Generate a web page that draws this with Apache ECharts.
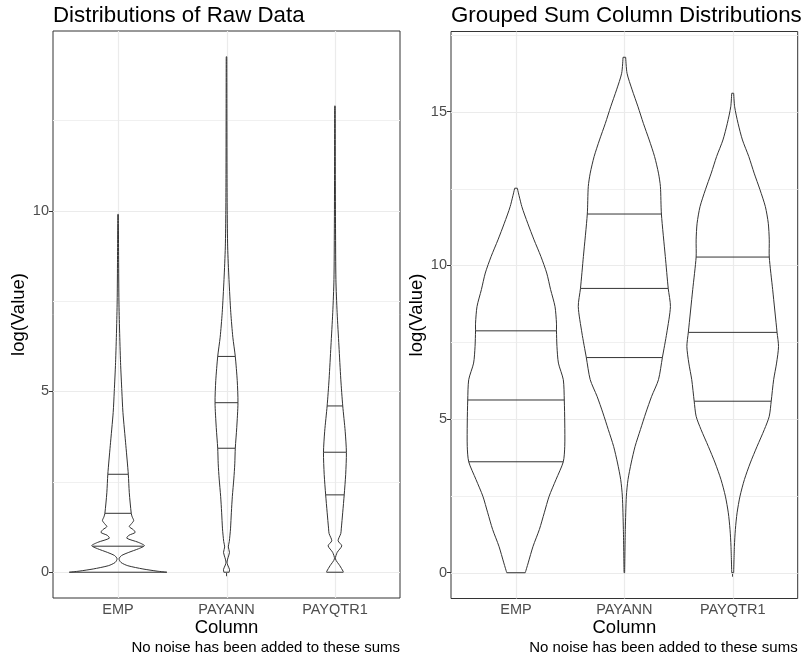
<!DOCTYPE html>
<html><head><meta charset="utf-8">
<script src="https://cdn.jsdelivr.net/npm/echarts@6/dist/echarts.min.js"></script>
<style>html,body{margin:0;padding:0;background:#fff}#c{width:801px;height:660px}</style>
</head><body><div id="c"></div>
<script>
const categories = ['EMP', 'PAYANN', 'PAYQTR1'];
const panelTitles = ['Distributions of Raw Data', 'Grouped Sum Column Distributions'];
const xTitle = 'Column';
const yTitle = 'log(Value)';
const captionText = 'No noise has been added to these sums';

// Panel 1 (raw data): violin outlines, value and scaled density width (1 = widest)
const rawEmpY = [0, 0.03, 0.09, 0.18, 0.27, 0.37, 0.46, 0.55, 0.65, 0.735, 0.83, 0.94, 1.02, 1.10, 1.18, 1.26, 1.35, 1.43, 1.53, 1.63, 2.2, 2.71, 3.5, 4.42, 5.0, 5.8, 6.7, 7.5, 8.5, 9.9];
const rawEmpW = [1.00, 0.80, 0.51, 0.20, 0.06, 0.02, 0.07, 0.22, 0.42, 0.54, 0.41, 0.18, 0.22, 0.35, 0.31, 0.23, 0.28, 0.32, 0.29, 0.27, 0.23, 0.21, 0.16, 0.10, 0.078, 0.051, 0.031, 0.018, 0.012, 0.006];
const rawPayannY = [0, 0.08, 0.2, 0.28, 0.4, 0.55, 0.7, 0.85, 1.2, 1.66, 2.1, 2.58, 3.0, 3.43, 4.0, 4.69, 5.3, 5.97, 6.5, 7.18, 8.1, 9.0, 10, 11, 12.5, 14.26];
const rawPayannW = [0.055, 0.061, 0.024, 0.01, 0.031, 0.061, 0.037, 0.057, 0.082, 0.10, 0.12, 0.15, 0.17, 0.18, 0.21, 0.235, 0.22, 0.18, 0.13, 0.088, 0.051, 0.024, 0.014, 0.01, 0.008, 0.006];
const rawPayqtrY = [0, 0.02, 0.18, 0.37, 0.55, 0.73, 0.87, 1.07, 1.2, 1.66, 2.14, 2.7, 3.31, 3.9, 4.6, 5.34, 6.26, 7.18, 8.1, 9.5, 11, 12.9];
const rawPayqtrW = [0.17, 0.17, 0.10, 0.01, 0.047, 0.14, 0.065, 0.12, 0.13, 0.16, 0.19, 0.22, 0.235, 0.21, 0.16, 0.12, 0.082, 0.045, 0.02, 0.012, 0.008, 0.006];
const rawQuantiles = [[0.72, 1.63, 2.71], [3.43, 4.69, 5.97], [2.14, 3.32, 4.60]];

// Panel 2 (grouped sums)
const sumEmpY = [0, 0.32, 0.86, 1.41, 1.95, 2.49, 3.03, 3.61, 4.11, 4.87, 5.62, 6.28, 6.82, 7.36, 7.87, 8.12, 8.66, 9.21, 9.75, 10.29, 10.83, 11.37, 11.91, 12.51];
const sumEmpW = [0.19, 0.25, 0.35, 0.48, 0.58, 0.68, 0.82, 0.97, 1.0, 1.0, 0.99, 0.97, 0.87, 0.84, 0.83, 0.83, 0.80, 0.71, 0.63, 0.51, 0.37, 0.24, 0.12, 0.027];
const sumPayannY = [0, 1.41, 2.49, 3.03, 3.57, 4.11, 4.66, 5.2, 5.74, 6.28, 7.0, 7.8, 8.66, 9.25, 10.29, 11.67, 12.56, 13.0, 13.54, 14.08, 14.62, 15.16, 15.71, 16.25, 16.77];
const sumPayannW = [0.006, 0.02, 0.041, 0.075, 0.14, 0.22, 0.33, 0.44, 0.56, 0.70, 0.78, 0.87, 0.945, 0.90, 0.84, 0.76, 0.74, 0.70, 0.62, 0.51, 0.39, 0.28, 0.16, 0.055, 0.027];
const sumPayqtrY = [0, 0.86, 1.41, 1.95, 2.49, 3.03, 3.57, 4.11, 4.66, 5.09, 5.58, 6.28, 6.82, 7.36, 7.82, 9.21, 10.27, 10.83, 11.37, 11.91, 12.46, 13.0, 13.54, 14.08, 14.62, 15.16, 15.6];
const sumPayqtrW = [0.02, 0.035, 0.055, 0.09, 0.15, 0.24, 0.36, 0.50, 0.65, 0.75, 0.79, 0.84, 0.90, 0.94, 0.91, 0.82, 0.75, 0.75, 0.73, 0.67, 0.56, 0.44, 0.33, 0.20, 0.11, 0.04, 0.02];
const sumQuantiles = [[3.61, 5.62, 7.87], [7.0, 9.25, 11.67], [5.58, 7.82, 10.27]];

// Axis ticks
const rawYTicks = [0, 5, 10];
const rawYMinor = [2.5, 7.5, 12.5];
const sumYTicks = [0, 5, 10, 15];
const sumYMinor = [2.5, 7.5, 12.5, 17.5];

const FONT = '"Liberation Sans", Arial, Helvetica, sans-serif';
const catPos = categories.map((c, i) => i + 1);

const rawProfiles = [
  { y: rawEmpY, w: rawEmpW }, { y: rawPayannY, w: rawPayannW }, { y: rawPayqtrY, w: rawPayqtrW }
];
const sumProfiles = [
  { y: sumEmpY, w: sumEmpW }, { y: sumPayannY, w: sumPayannW }, { y: sumPayqtrY, w: sumPayqtrW }
];

function interp(ys, ws, v) {
  for (let k = 1; k < ys.length; k++) {
    if (v <= ys[k]) {
      const t = (v - ys[k - 1]) / (ys[k] - ys[k - 1]);
      return ws[k - 1] + t * (ws[k] - ws[k - 1]);
    }
  }
  return ws[ws.length - 1];
}

function yRange(profiles) {
  let mx = 0;
  profiles.forEach(p => p.y.forEach(v => { if (v > mx) mx = v; }));
  return { min: -0.05 * mx, max: 1.05 * mx };
}

const STROKE = { stroke: '#333333', lineWidth: 1, fill: 'none' };

function violinSeries(g, profiles, quantiles) {
  return {
    type: 'custom', xAxisIndex: g, yAxisIndex: g, z: 3, silent: true,
    data: catPos.map(p => [p, 0]),
    encode: { x: 0, y: 1 },
    renderItem(params, api) {
      const i = params.dataIndex;
      const pos = api.value(0);
      const ys = profiles[i].y, ws = profiles[i].w;
      const half = w => 0.45 * w;
      const left = ys.map((y, k) => api.coord([pos - half(ws[k]), y]));
      const right = ys.map((y, k) => api.coord([pos + half(ws[k]), y]));
      const n = ys.length - 1;
      const children = [
        { type: 'polyline', shape: { points: left, smooth: 0.25 }, style: STROKE },
        { type: 'polyline', shape: { points: right, smooth: 0.25 }, style: STROKE },
        { type: 'line', shape: { x1: left[0][0], y1: left[0][1], x2: right[0][0], y2: right[0][1] }, style: STROKE },
        { type: 'line', shape: { x1: left[n][0], y1: left[n][1], x2: right[n][0], y2: right[n][1] }, style: STROKE }
      ];
      quantiles[i].forEach(q => {
        const w = interp(ys, ws, q);
        const a = api.coord([pos - half(w), q]);
        const b = api.coord([pos + half(w), q]);
        children.push({ type: 'line', shape: { x1: a[0], y1: a[1], x2: b[0], y2: b[1] }, style: STROKE });
      });
      return { type: 'group', children };
    }
  };
}

function gridLineSeries(g, major, minor) {
  return {
    type: 'custom', xAxisIndex: g, yAxisIndex: g, z: 1, silent: true,
    data: [[catPos[0], 0]],
    encode: { x: 0, y: 1 },
    renderItem(params, api) {
      const cs = params.coordSys;
      const ch = [];
      minor.forEach(v => {
        const y = Math.round(api.coord([catPos[0], v])[1]) + 0.5;
        ch.push({ type: 'line', shape: { x1: cs.x, y1: y, x2: cs.x + cs.width, y2: y }, style: { stroke: '#f0f0f0', lineWidth: 1 } });
      });
      major.forEach(v => {
        const y = Math.round(api.coord([catPos[0], v])[1]) + 0.5;
        ch.push({ type: 'line', shape: { x1: cs.x, y1: y, x2: cs.x + cs.width, y2: y }, style: { stroke: '#ebebeb', lineWidth: 1.2 } });
      });
      catPos.forEach(p => {
        const x = Math.round(api.coord([p, 0])[0]) + 0.5;
        ch.push({ type: 'line', shape: { x1: x, y1: cs.y, x2: x, y2: cs.y + cs.height }, style: { stroke: '#ebebeb', lineWidth: 1.2 } });
      });
      return { type: 'group', children: ch };
    }
  };
}

function xAxisDef(g) {
  return {
    type: 'value', gridIndex: g, min: 0.4, max: 3.6,
    splitLine: { show: false }, axisLine: { show: false },
    axisTick: { show: true, customValues: catPos, length: 4, lineStyle: { color: '#333333', width: 1 } },
    axisLabel: { customValues: catPos, formatter: v => categories[Math.round(v) - 1] || '', color: '#4d4d4d', fontSize: 14.5, fontFamily: FONT, margin: 4 }
  };
}
function yAxisDef(g, range, ticks) {
  return {
    type: 'value', gridIndex: g, min: range.min, max: range.max,
    splitLine: { show: false }, axisLine: { show: false },
    axisTick: { show: true, customValues: ticks, length: 4, lineStyle: { color: '#333333', width: 1 } },
    axisLabel: { customValues: ticks, color: '#4d4d4d', fontSize: 14.5, fontFamily: FONT, margin: 4 }
  };
}

const rawRange = yRange(rawProfiles);
const sumRange = yRange(sumProfiles);

const grids = [
  { left: 53, top: 31, width: 347, height: 567 },
  { left: 451, top: 31.5, width: 346.7, height: 567 }
];

const chart = echarts.init(document.getElementById('c'), null, { renderer: 'canvas' });
chart.setOption({
  animation: false,
  backgroundColor: '#ffffff',
  title: panelTitles.map((t, i) => ({
    text: t, left: grids[i].left, top: 5, padding: 0,
    textStyle: { fontSize: 22.3, fontWeight: 'normal', color: '#000000', fontFamily: FONT }
  })),
  grid: grids.map(g => Object.assign({ show: true, borderColor: '#333333', borderWidth: 1, backgroundColor: 'transparent', containLabel: false }, g)),
  xAxis: [xAxisDef(0), xAxisDef(1)],
  yAxis: [yAxisDef(0, rawRange, rawYTicks), yAxisDef(1, sumRange, sumYTicks)],
  series: [
    gridLineSeries(0, rawYTicks, rawYMinor),
    gridLineSeries(1, sumYTicks, sumYMinor),
    violinSeries(0, rawProfiles, rawQuantiles),
    violinSeries(1, sumProfiles, sumQuantiles)
  ],
  graphic: grids.flatMap((g, i) => [
    { type: 'text', x: 18.5 + i * 398.5, y: g.top + g.height / 2, rotation: Math.PI / 2,
      style: { text: yTitle, fontSize: 18.5, fontFamily: FONT, fill: '#000', align: 'center', verticalAlign: 'middle' } },
    { type: 'text', x: g.left + g.width / 2, y: 627.5,
      style: { text: xTitle, fontSize: 18.5, fontFamily: FONT, fill: '#000', align: 'center', verticalAlign: 'middle' } },
    { type: 'text', x: g.left + g.width, y: 648,
      style: { text: captionText, fontSize: 15, fontFamily: FONT, fill: '#000', align: 'right', verticalAlign: 'middle' } }
  ])
});
</script>
</body></html>
